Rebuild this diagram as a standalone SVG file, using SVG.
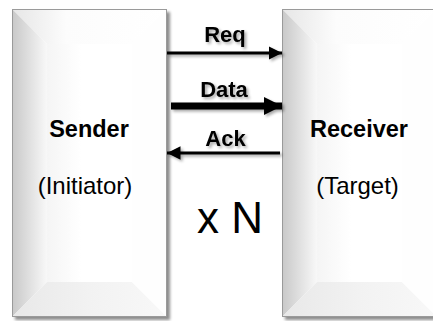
<svg xmlns="http://www.w3.org/2000/svg" width="433" height="321" viewBox="0 0 433 321">
<defs>
<style>
.bold{font-family:"Liberation Sans",Arial,sans-serif;font-weight:bold;font-size:23.5px;fill:#000;text-anchor:middle}
.reg{font-family:"Liberation Sans",Arial,sans-serif;font-size:24px;fill:#000;text-anchor:middle}
.lbl{font-family:"Liberation Sans",Arial,sans-serif;font-weight:bold;font-size:22px;fill:#000;text-anchor:middle}
.big{font-family:"Liberation Sans",Arial,sans-serif;font-size:44px;fill:#000;text-anchor:middle}
.edge{fill:none;stroke:#9a9a9a;stroke-width:1}
.conn{stroke:#000;fill:none}
</style>
<linearGradient id="gLeft" x1="0" y1="0" x2="1" y2="0">
<stop offset="0" stop-color="#c8c8c8"/>
<stop offset="1" stop-color="#f8f8f8"/>
</linearGradient>
<linearGradient id="gTop" x1="0" y1="0" x2="1" y2="0">
<stop offset="0" stop-color="#e6e6e6"/>
<stop offset="0.35" stop-color="#fcfcfc"/>
<stop offset="1" stop-color="#ffffff"/>
</linearGradient>
<linearGradient id="gBot" x1="0" y1="0" x2="1" y2="0">
<stop offset="0" stop-color="#e8e8e8"/>
<stop offset="0.5" stop-color="#f2f2f2"/>
<stop offset="1" stop-color="#f8f8f8"/>
</linearGradient>
<linearGradient id="gFace" x1="0" y1="0" x2="1" y2="0">
<stop offset="0" stop-color="#f5f5f5"/>
<stop offset="0.4" stop-color="#ffffff"/>
</linearGradient>
<filter id="shadow" x="-10%" y="-10%" width="130%" height="130%">
<feGaussianBlur in="SourceAlpha" stdDeviation="1.8"/>
<feOffset dx="3" dy="3" result="b"/>
<feComponentTransfer><feFuncA type="linear" slope="0.45"/></feComponentTransfer>
<feMerge><feMergeNode/><feMergeNode in="SourceGraphic"/></feMerge>
</filter>
<filter id="tshadow" x="-20%" y="-40%" width="140%" height="180%">
<feGaussianBlur in="SourceAlpha" stdDeviation="1.5"/>
<feOffset dx="2" dy="2" result="b"/>
<feComponentTransfer><feFuncA type="linear" slope="0.35"/></feComponentTransfer>
<feMerge><feMergeNode/><feMergeNode in="SourceGraphic"/></feMerge>
</filter>
<marker id="ah" viewBox="0 0 10 10" refX="10" refY="5" markerWidth="4.5" markerHeight="4.5" orient="auto" markerUnits="strokeWidth">
<path d="M0,0 L10,5 L0,10 z" fill="#000"/>
</marker>
<marker id="ahT" viewBox="0 0 10 10" refX="10" refY="5" markerWidth="2.6" markerHeight="3.4" orient="auto" markerUnits="strokeWidth">
<path d="M0,0 L10,5 L0,10 z" fill="#000"/>
</marker>
</defs>

<g id="sender">
<g filter="url(#shadow)">
<rect x="12" y="9" width="155" height="308" fill="#fff"/>
<rect x="47" y="44" width="85" height="238" fill="url(#gFace)"/>
<polygon points="12,9 167,9 132,44 47,44" fill="url(#gTop)"/>
<polygon points="12,9 47,44 47,282 12,317" fill="url(#gLeft)"/>
<polygon points="12,317 47,282 132,282 167,317" fill="url(#gBot)"/>
<polygon points="167,9 132,44 132,282 167,317" fill="#fefefe"/>
</g>
<rect class="edge" x="12.5" y="9.5" width="154" height="307"/>
<text class="bold" x="89" y="137">Sender</text>
<text class="reg" x="85" y="194">(Initiator)</text>
</g>

<g id="receiver">
<g filter="url(#shadow)">
<rect x="282" y="9" width="155" height="308" fill="#fff"/>
<rect x="317" y="44" width="85" height="238" fill="url(#gFace)"/>
<polygon points="282,9 437,9 402,44 317,44" fill="url(#gTop)"/>
<polygon points="282,9 317,44 317,282 282,317" fill="url(#gLeft)"/>
<polygon points="282,317 317,282 402,282 437,317" fill="url(#gBot)"/>
<polygon points="437,9 402,44 402,282 437,317" fill="#fefefe"/>
</g>
<rect class="edge" x="282.5" y="9.5" width="154" height="307"/>
<text class="bold" x="359" y="137">Receiver</text>
<text class="reg" x="357.5" y="194">(Target)</text>
</g>

<g id="multiplier">
<text class="big" x="230" y="233">x N</text>
</g>

<g id="connectors" filter="url(#tshadow)">
<line class="conn" x1="167" y1="53" x2="282" y2="53" stroke-width="3" marker-end="url(#ah)"/>
<line class="conn" x1="171" y1="106" x2="282" y2="106" stroke-width="7" marker-end="url(#ahT)"/>
<line class="conn" x1="280" y1="153" x2="167" y2="153" stroke-width="3" marker-end="url(#ah)"/>
<text class="lbl" x="225" y="42">Req</text>
<text class="lbl" x="224" y="97">Data</text>
<text class="lbl" x="225.5" y="146">Ack</text>
</g>
</svg>
